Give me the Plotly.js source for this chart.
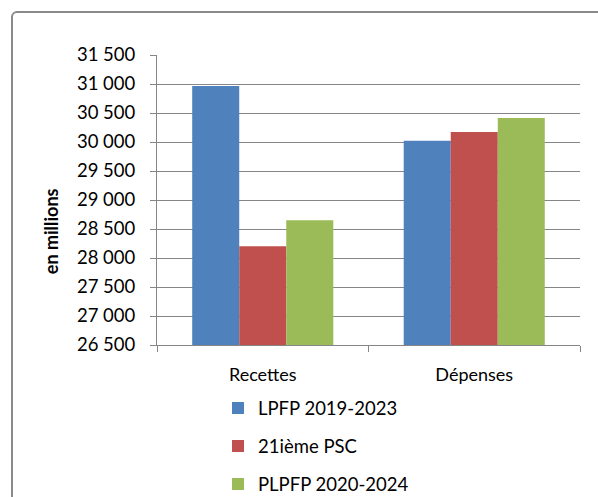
<!DOCTYPE html>
<html>
<head>
<meta charset="utf-8">
<script src="https://cdn.plot.ly/plotly-3.0.1.min.js"></script>
<style>
html,body{margin:0;padding:0;background:#fff;}
#frame{position:absolute;left:11px;top:11px;width:600px;height:500px;border:2px solid #8a8a8a;border-radius:6px;box-sizing:border-box;}
#chart{position:absolute;left:0;top:0;width:598px;height:497px;}
</style>
</head>
<body>
<div id="frame"></div>
<div id="chart"></div>
<script>
var categories = ["Recettes", "Dépenses"];
var seriesNames = ["LPFP 2019-2023", "21ième PSC", "PLPFP 2020-2024"];
var lpfp2019 = [30966, 30020];
var psc21 = [28203, 30172];
var plpfp2020 = [28652, 30414];
var yTickVals = [26500, 27000, 27500, 28000, 28500, 29000, 29500, 30000, 30500, 31000, 31500];
var yTickText = ["26 500", "27 000", "27 500", "28 000", "28 500", "29 000", "29 500", "30 000", "30 500", "31 000", "31 500"];
var yTitle = "en millions";
var colors = ["#4f81bd", "#c0504d", "#9bbb59"];
var seriesValues = [lpfp2019, psc21, plpfp2020];

var font = "Lato, 'Open Sans', sans-serif";
var traces = seriesValues.map(function(vals, i){
  return {
    type: "bar",
    x: categories,
    y: vals,
    name: seriesNames[i],
    legendgroup: "g" + i,
    marker: {color: colors[i], line: {width: 0}},
    hoverinfo: "skip"
  };
});

var layout = {
  width: 598, height: 497,
  margin: {l: 157, r: 18, t: 55, b: 151.5, pad: 0, autoexpand: false},
  paper_bgcolor: "rgba(0,0,0,0)",
  plot_bgcolor: "rgba(0,0,0,0)",
  bargap: 0.333, bargroupgap: 0,
  barmode: "group",
  font: {family: font, size: 16, color: "#000"},
  xaxis: {
    type: "category",
    showline: true, linecolor: "#868686", linewidth: 1,
    ticks: "outside", tickson: "boundaries", ticklen: 6, tickcolor: "#868686",
    showgrid: false,
    ticklabelstandoff: 13,
    tickfont: {family: font, size: 18, color: "#000"}
  },
  yaxis: {
    range: [26500, 31500],
    tickvals: yTickVals, ticktext: yTickText,
    showline: true, linecolor: "#868686", linewidth: 1,
    ticks: "outside", ticklen: 6, tickcolor: "#868686",
    showgrid: true, gridcolor: "#868686", gridwidth: 1,
    zeroline: false,
    ticklabelstandoff: 11,
    tickfont: {family: font, size: 18.5, color: "#000"}
  },
  annotations: [{
    text: "<b>" + yTitle + "</b>",
    textangle: -90,
    xref: "paper", yref: "paper",
    x: (51 - 157) / 423, y: (345.5 - 231.5) / 290.5,
    xanchor: "center", yanchor: "middle",
    showarrow: false,
    font: {family: font, size: 18, color: "#000"}
  }],
  showlegend: true,
  legend: {
    orientation: "v",
    x: (218 - 157) / 423, xanchor: "left",
    y: -(390 - 345.5) / 290.5, yanchor: "top",
    tracegroupgap: 11,
    font: {family: font, size: 18.5, color: "#000"},
    bgcolor: "rgba(0,0,0,0)"
  }
};

Plotly.newPlot("chart", traces, layout, {displayModeBar: false, staticPlot: true});
</script>
</body>
</html>
